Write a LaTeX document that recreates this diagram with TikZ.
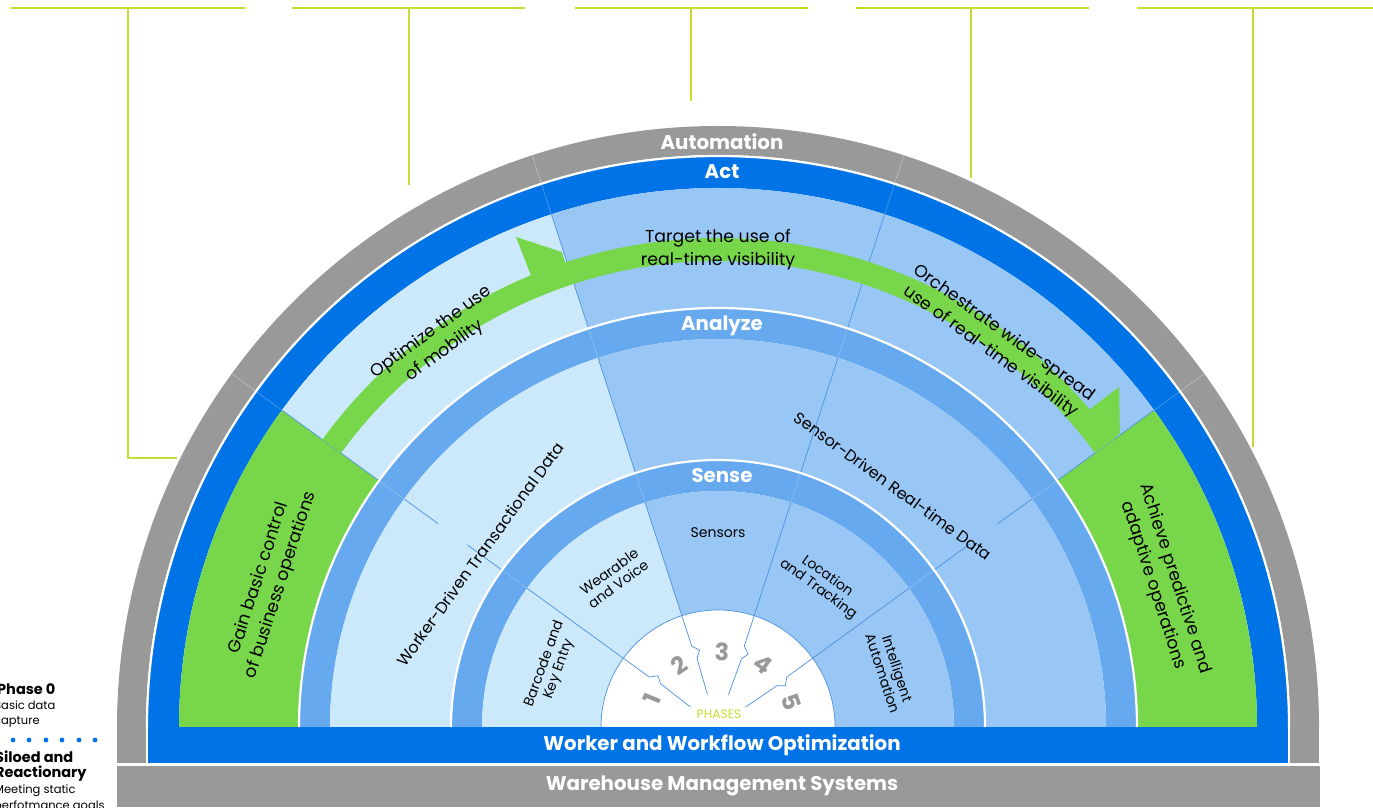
\documentclass[tikz,border=0pt]{standalone}
\usepackage{fontspec}
\setmainfont{Poppins}
\definecolor{cgray}{HTML}{999999}
\definecolor{cblue}{HTML}{0073E6}
\definecolor{cband}{HTML}{66A9EE}
\definecolor{cmid}{HTML}{99C7F5}
\definecolor{clight}{HTML}{CCE9FC}
\definecolor{cgreen}{HTML}{78D64B}
\definecolor{cline}{HTML}{4A90E2}
\definecolor{cfaint}{HTML}{8CBFF3}
\definecolor{cactl}{HTML}{4D9CF0}
\definecolor{clime}{HTML}{C8DC32}
\definecolor{cdigit}{HTML}{999999}
\newcommand\annsec[5]{\fill[#1] (#2:#4pt) arc[start angle=#2,end angle=#3,radius=#4pt] -- (#3:#5pt) arc[start angle=#3,end angle=#2,radius=#5pt] -- cycle;}
\begin{document}
\begin{tikzpicture}[x=1pt,y=1pt,
  limeline/.style={draw=clime,line width=1.4pt},
  hdr/.style={text=white,font=\bfseries\fontsize{19.8}{22}\selectfont,inner sep=0pt},
  acttext/.style={text=black,align=center,font=\fontsize{17.3}{23}\selectfont,inner sep=0pt},
  datatext/.style={text=black,align=center,font=\fontsize{16}{22}\selectfont,inner sep=0pt},
  sensetext/.style={text=black,align=center,font=\fontsize{14}{15.5}\selectfont,inner sep=0pt},
  digit/.style={text=cdigit,font=\bfseries\fontsize{24}{24}\selectfont,inner sep=0pt},
  sepline/.style={draw=cline,line width=0.7pt},
  faintline/.style={draw=cfaint,line width=0.6pt},
  grayseam/.style={draw=gray!50!white,line width=0.6pt},
  actseam/.style={draw=cactl,line width=0.6pt},
  whitesep/.style={draw=white,line width=2.2pt},
  lefthead/.style={anchor=base west,inner sep=0pt,font=\bfseries\fontsize{14.5}{16}\selectfont},
  lefttext/.style={anchor=base west,inner sep=0pt,font=\fontsize{11.5}{14}\selectfont},
  dotstyle/.style={fill=cblue}
]
\useasboundingbox (0,0) rectangle (1373,807);
\clip (0,0) rectangle (1373,807);
\fill[white] (0,0) rectangle (1373,807);
% top lime lines
\coordinate (t1a) at (11,799); \coordinate (t1b) at (245,799);
\coordinate (t2a) at (292,799); \coordinate (t2b) at (525,799);
\coordinate (t3a) at (575,799); \coordinate (t3b) at (808,799);
\coordinate (t4a) at (856,799); \coordinate (t4b) at (1089,799);
\coordinate (t5a) at (1137,799); \coordinate (t5b) at (1373,799);
\draw[limeline] (t1a) -- (t1b);
\draw[limeline] (t2a) -- (t2b);
\draw[limeline] (t3a) -- (t3b);
\draw[limeline] (t4a) -- (t4b);
\draw[limeline] (t5a) -- (t5b);
\draw[limeline] (128,799) -- (128,349) -- (177,349);
\draw[limeline] (409,799) -- (409,622);
\draw[limeline] (691,799) -- (691,706);
\draw[limeline] (971,799) -- (971,629);
\draw[limeline] (1253,799) -- (1253,360);

\begin{scope}[shift={(718,80)}]
 % gray ring
 \annsec{cgray}{0}{180}{601}{572}
 \fill[cgray] (-601,0) rectangle (-572,-36);
 \fill[cgray] (572,0) rectangle (601,-36);
 % act band
 \annsec{cblue}{0}{180}{571}{539}
 % act region
 \annsec{cgreen}{144}{180}{539}{419}
 \annsec{clight}{108}{144}{539}{419}
 \annsec{cmid}{36}{108}{539}{419}
 \annsec{cgreen}{0}{36}{539}{419}
 % analyze band
 \annsec{cband}{0}{180}{419}{388}
 \annsec{clight}{108}{180}{388}{267}
 \annsec{cmid}{0}{108}{388}{267}
 % sense band
 \annsec{cband}{0}{180}{267}{236}
 \annsec{clight}{108}{180}{236}{117}
 \annsec{cmid}{0}{108}{236}{117}
 % phases circle
 \fill[white] (0:117pt) arc[start angle=0,end angle=180,radius=117pt] -- cycle;
 \draw[sepline] (0:117pt) arc[start angle=0,end angle=180,radius=117pt];
 % bottom bars
 \fill[cblue] (-571,0) rectangle (571,-36);
 \fill[cgray] (-601,-39) rectangle (602,-80);
 % radial seams
 \foreach \a in {144,108,72,36}{
   \draw[grayseam] (\a:573pt) -- (\a:601pt);
   \draw[actseam] (\a:539pt) -- (\a:570pt);
   \draw[sepline] (\a:419pt) -- (\a:539pt);
   \draw[faintline] (\a:388pt) -- (\a:418pt);
   \draw[faintline] (\a:236pt) -- (\a:266pt);
   \draw[sepline] (\a:117pt) -- (\a:236pt);
   \draw[sepline] (\a:117pt) -- (\a:85pt) -- ({\a-4.5}:79pt) -- ({\a-1}:72pt) -- (\a:34pt);
 }
 \draw[sepline] (144:267pt) -- (144:310pt);
 \draw[sepline] (144:346pt) -- (144:388pt);
 \draw[sepline] (108:267pt) -- (108:388pt);
 \draw[sepline] (72:267pt) -- (72:388pt);
 \draw[sepline] (36:267pt) -- (36:311pt);
 \draw[sepline] (36:345pt) -- (36:388pt);
 % green arrow band
 \fill[cgreen] (144:489pt) arc[start angle=144,end angle=112.5,radius=489pt]
   -- (112.4:530pt) -- (108.2:500pt) -- (108.2:489pt)
   arc[start angle=108.2,end angle=40.5,radius=489pt]
   -- (40.3:526pt) -- (36.2:498pt) -- (36:489pt) -- (36:466pt)
   arc[start angle=36,end angle=144,radius=466pt] -- cycle;
 % white separators
 \draw[whitesep] (0:571pt) arc[start angle=0,end angle=180,radius=571pt];
 \draw[whitesep] (-571,0) -- (-571,-36);
 \draw[whitesep] (571,0) -- (571,-36);
 \draw[whitesep] (0:419pt) arc[start angle=0,end angle=180,radius=419pt];
 \draw[whitesep] (0:267pt) arc[start angle=0,end angle=180,radius=267pt];
 % headings
 \node[hdr] (automation) at (4,585) {Automation};
 \node[hdr] (act) at (4,555) {Act};
 \node[hdr] (analyze) at (4,401) {Analyze};
 \node[hdr] (sense) at (4,251) {Sense};
 \node[hdr] (wwo) at (4,-18) {Worker and Workflow Optimization};
 \node[hdr] (wms) at (4,-59) {Warehouse Management Systems};
 % act region texts
 \node[acttext,rotate=72] (gain) at (162:471pt) {Gain basic control\\of business operations};
 \node[acttext,rotate=36] (optimize) at (126:476pt) {Optimize the use\\of mobility};
 \node[acttext] (target) at (90:477pt) {Target the use of\\real-time visibility};
 \node[acttext,rotate=-36] (orchestrate) at (54:475pt) {Orchestrate wide-spread\\use of real-time visibility};
 \node[acttext,rotate=-72] (achieve) at (18:469pt) {Achieve predictive and\\adaptive operations};
 % analyze region texts
 \node[datatext,rotate=54] (worker) at (144:294pt) {Worker-Driven Transactional Data};
 \node[datatext,rotate=-36] (sensor) at (54:298pt) {Sensor-Driven Real-time Data};
 % sense region texts
 \node[sensetext,rotate=70] (barcode) at (160:177pt) {Barcode and\\Key Entry};
 \node[sensetext,rotate=36] (wearable) at (125:182pt) {Wearable\\and Voice};
 \node[sensetext] (sensors) at (90:194pt) {Sensors};
 \node[sensetext,rotate=-36] (location) at (54:178pt) {Location\\and Tracking};
 \node[sensetext,rotate=-72] (intelligent) at (18:181pt) {Intelligent\\Automation};
 % phases
 \node[digit,rotate=68] (ph1) at (157:72pt) {1};
 \node[digit,rotate=34] (ph2) at (122:73pt) {2};
 \node[digit,rotate=-2] (ph3) at (87:75pt) {3};
 \node[digit,rotate=-36] (ph4) at (54:77pt) {4};
 \node[digit,rotate=-71] (ph5) at (19:78pt) {5};
 \node[text=clime,font=\fontsize{12.3}{13}\selectfont,inner sep=0pt] (phases) at (1,13) {PHASES};
\end{scope}
% left legend
\node[lefthead] (l1) at (-3,113) {Phase 0};
\node[lefttext] (l2) at (-6,98) {Basic data};
\node[lefttext] (l3) at (-6,83) {capture};
\foreach \x in {-3,13,29,46,62,79,95}{\fill[dotstyle] (\x,67) circle[radius=2.4pt];}
\node[lefthead] (l4) at (-5,45) {Siloed and};
\node[lefthead] (l5) at (-5,30) {Reactionary};
\node[lefttext] (l6) at (-6,14) {Meeting static};
\node[lefttext] (l7) at (-6,-2) {perfotmance goals};
\end{tikzpicture}
\end{document}
